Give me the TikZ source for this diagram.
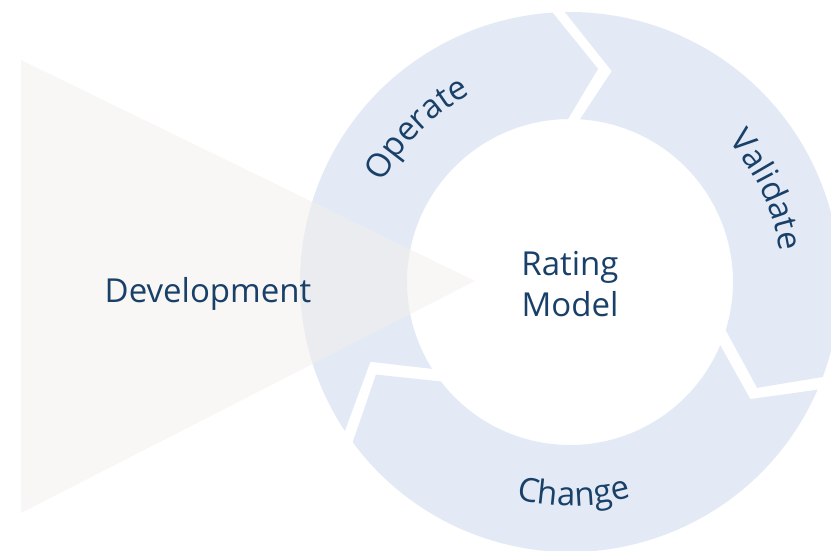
\documentclass[tikz,border=0pt]{standalone}
\usepackage{fontspec}
\setmainfont{Open Sans}
\usetikzlibrary{decorations.text}
\definecolor{ringblue}{RGB}{227,234,245}
\definecolor{tribeige}{RGB}{241,239,235}
\definecolor{txtblue}{RGB}{24,64,104}
\newcommand\lblfont{\fontsize{33}{41}\selectfont}
% segment: tail outer, tail inner, notch, head outer, head inner, tip
\newcommand\ringseg[6]{%
  \fill[ringfill] ([shift={(#1:270)}]C) arc[start angle=#1, end angle=#4, radius=270]
    -- ([shift={(#6:215)}]C) -- ([shift={(#5:163)}]C)
    arc[start angle=#5, end angle=#2, radius=163]
    -- ([shift={(#3:215)}]C) -- cycle;}
\begin{document}
\begin{tikzpicture}[x=1pt,y=1pt,
  ringfill/.style={fill=ringblue},
  trifill/.style={fill=tribeige, fill opacity=0.5},
  lbl/.style={text=txtblue, font=\lblfont, inner sep=0pt},
  arctext/.style={decorate, decoration={text along path, text align=center, text color=txtblue}}]
\useasboundingbox (0,0) rectangle (831,551);
\clip (0,0) rectangle (831,551);
\coordinate (C) at (570,269);
% ring segments
\ringseg{213.5}{212.2}{201.8}{93.7}{90.7}{82.5}
\ringseg{91.1}{86.5}{78.8}{-20.6}{-17.2}{-29.5}
\ringseg{-23.5}{-22.8}{-33}{-143.6}{-142.4}{-154.5}
% triangle
\coordinate (t1) at (21,491);
\coordinate (t2) at (21,38);
\coordinate (t3) at (475,270);
\fill[trifill] (t1) -- (t3) -- (t2) -- cycle;
% ring labels
\path[arctext, decoration={text={|\lblfont|Operate}}]
  ([shift={(175:212)}]C) arc[start angle=175, end angle=95, radius=212];
\path[arctext, decoration={text={|\lblfont|Validate}}]
  ([shift={(65:212)}]C) arc[start angle=65, end angle=-15, radius=212];
\path[arctext, decoration={text={|\lblfont|Change}}]
  ([shift={(-129:224)}]C) arc[start angle=-129, end angle=-49, radius=224];
% labels
\node[lbl, anchor=base] (dev) at (208,248) {Development};
\node[lbl, align=center] (rm) at (570,267) {Rating\\Model};
\end{tikzpicture}
\end{document}
